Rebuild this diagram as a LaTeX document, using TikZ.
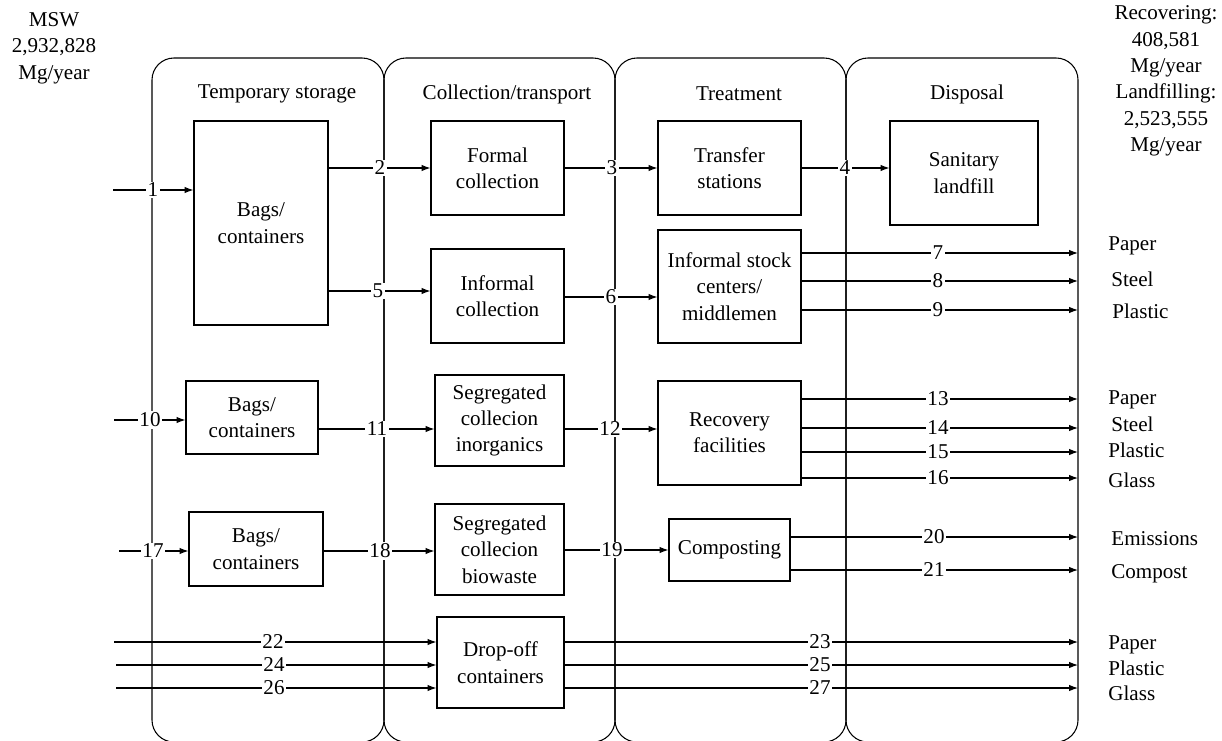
\documentclass[tikz,border=0pt]{standalone}
\usepackage{fontspec}
\setmainfont{Liberation Serif}
\usetikzlibrary{arrows.meta}
\begin{document}
\begin{tikzpicture}[x=0.02cm,y=-0.02cm,
  every node/.style={font=\fontsize{12}{15}\selectfont},
  lane/.style={draw, line width=0.6pt, rounded corners=12.5pt},
  box/.style={draw, line width=0.6pt, align=center, inner sep=0pt},
  bsz/.style 2 args={minimum width=#1*0.02cm, minimum height=#2*0.02cm},
  arr/.style={draw, line width=0.6pt, -{Latex[length=5pt,width=3.6pt]}},
  lbl/.style={fill=white, inner sep=0.8pt},
  outlbl/.style={anchor=west, inner sep=0pt},
  head/.style={inner sep=0pt},
  info/.style={align=center, inner sep=0pt}]

\useasboundingbox (0,0) rectangle (1222,740);

% lanes
\draw[lane] (152,58) rectangle (384,742);
\draw[lane] (384,58) rectangle (615,742);
\draw[lane] (615,58) rectangle (846,742);
\draw[lane] (846,58) rectangle (1078,742);

% headers
\node[head] (h1) at (277,94) {Temporary storage};
\node[head] (h2) at (507,94) {Collection/transport};
\node[head] (h3) at (739,94) {Treatment};
\node[head] (h4) at (967,94) {Disposal};

% side texts
\node[info] (msw) at (54,48) {MSW\\2,932,828\\Mg/year};
\node[info] (tot) at (1166,81) {Recovering:\\408,581\\Mg/year\\Landfilling:\\2,523,555\\Mg/year};

% boxes
\node[box, bsz={134}{204}] (bagsA) at (261,223) {Bags/\\containers};
\node[box, bsz={133}{94}] (formal) at (497.5,168) {Formal\\collection};
\node[box, bsz={143}{94}] (transfer) at (729.5,168) {Transfer\\stations};
\node[box, bsz={148}{104}] (landfill) at (964,173) {Sanitary\\landfill};
\node[box, bsz={133}{94}] (informal) at (497.5,296) {Informal\\collection};
\node[box, bsz={143}{113}] (stock) at (729.5,286.5) {Informal stock\\centers/\\middlemen};
\node[box, bsz={132}{73}] (bagsB) at (252,417.5) {Bags/\\containers};
\node[box, bsz={129}{91}] (inorg) at (499.5,420.5) {Segregated\\collecion\\inorganics};
\node[box, bsz={143}{104}] (recovery) at (729.5,433) {Recovery\\facilities};
\node[box, bsz={134}{74}] (bagsC) at (256,549) {Bags/\\containers};
\node[box, bsz={129}{91}] (bio) at (499.5,549.5) {Segregated\\collecion\\biowaste};
\node[box, bsz={121}{62}] (compost) at (729.5,550) {Composting};
\node[box, bsz={127}{91}] (dropoff) at (500.5,662.5) {Drop-off\\containers};

% free ends
\coordinate (in1) at (113,190);
\coordinate (in10) at (114,420);
\coordinate (in17) at (119,551);
\coordinate (in22) at (114,642);
\coordinate (in24) at (116,665);
\coordinate (in26) at (116,688);
\coordinate (r5) at (0,291);
\coordinate (r6) at (0,297);
\coordinate (r11) at (0,429);
\coordinate (r19) at (0,550);
\coordinate (o7) at (1078,253);
\coordinate (o8) at (1078,281);
\coordinate (o9) at (1078,310);
\coordinate (o13) at (1078,399);
\coordinate (o14) at (1078,428);
\coordinate (o15) at (1078,452);
\coordinate (o16) at (1078,478);
\coordinate (o20) at (1078,537);
\coordinate (o21) at (1078,570);
\coordinate (o23) at (1078,642);
\coordinate (o25) at (1078,665);
\coordinate (o27) at (1078,688);

% connectors
\draw[arr] (in1) -- (bagsA.west |- in1) node[lbl] at (153,190) {1};
\draw[arr] (bagsA.east |- formal.west) -- (formal.west) node[lbl] at (380,168) {2};
\draw[arr] (formal.east) -- (transfer.west) node[lbl] at (612,168) {3};
\draw[arr] (transfer.east) -- (landfill.west |- transfer.east) node[lbl] at (845,168) {4};
\draw[arr] (bagsA.east |- r5) -- (informal.west |- r5) node[lbl] at (378,291) {5};
\draw[arr] (informal.east |- r6) -- (stock.west |- r6) node[lbl] at (611,297) {6};
\draw[arr] (stock.east |- o7) -- (o7) node[lbl] at (938,253) {7};
\draw[arr] (stock.east |- o8) -- (o8) node[lbl] at (938,281) {8};
\draw[arr] (stock.east |- o9) -- (o9) node[lbl] at (938,310) {9};
\draw[arr] (in10) -- (bagsB.west |- in10) node[lbl] at (150,420) {10};
\draw[arr] (bagsB.east |- r11) -- (inorg.west |- r11) node[lbl] at (377,429) {11};
\draw[arr] (inorg.east |- r11) -- (recovery.west |- r11) node[lbl] at (610,429) {12};
\draw[arr] (recovery.east |- o13) -- (o13) node[lbl] at (938,399) {13};
\draw[arr] (recovery.east |- o14) -- (o14) node[lbl] at (938,428) {14};
\draw[arr] (recovery.east |- o15) -- (o15) node[lbl] at (938,452) {15};
\draw[arr] (recovery.east |- o16) -- (o16) node[lbl] at (938,478) {16};
\draw[arr] (in17) -- (bagsC.west |- in17) node[lbl] at (153,551) {17};
\draw[arr] (bagsC.east |- in17) -- (bio.west |- in17) node[lbl] at (380,551) {18};
\draw[arr] (bio.east |- r19) -- (compost.west |- r19) node[lbl] at (612,550) {19};
\draw[arr] (compost.east |- o20) -- (o20) node[lbl] at (934,537) {20};
\draw[arr] (compost.east |- o21) -- (o21) node[lbl] at (934,570) {21};
\draw[arr] (in22) -- (dropoff.west |- in22) node[lbl] at (273,642) {22};
\draw[arr] (in24) -- (dropoff.west |- in24) node[lbl] at (274,665) {24};
\draw[arr] (in26) -- (dropoff.west |- in26) node[lbl] at (274,688) {26};
\draw[arr] (dropoff.east |- o23) -- (o23) node[lbl] at (820,642) {23};
\draw[arr] (dropoff.east |- o25) -- (o25) node[lbl] at (820,665) {25};
\draw[arr] (dropoff.east |- o27) -- (o27) node[lbl] at (820,688) {27};

% output labels
\node[outlbl] (p1) at (1108,246) {Paper};
\node[outlbl] (s1) at (1111,279) {Steel};
\node[outlbl] (pl1) at (1112,311) {Plastic};
\node[outlbl] (p2) at (1108,400) {Paper};
\node[outlbl] (s2) at (1111,424) {Steel};
\node[outlbl] (pl2) at (1108,450) {Plastic};
\node[outlbl] (g2) at (1108,480) {Glass};
\node[outlbl] (em) at (1111,539) {Emissions};
\node[outlbl] (co) at (1111,574) {Compost};
\node[outlbl] (p3) at (1108,645) {Paper};
\node[outlbl] (pl3) at (1108,668) {Plastic};
\node[outlbl] (g3) at (1108,693) {Glass};
\end{tikzpicture}
\end{document}
